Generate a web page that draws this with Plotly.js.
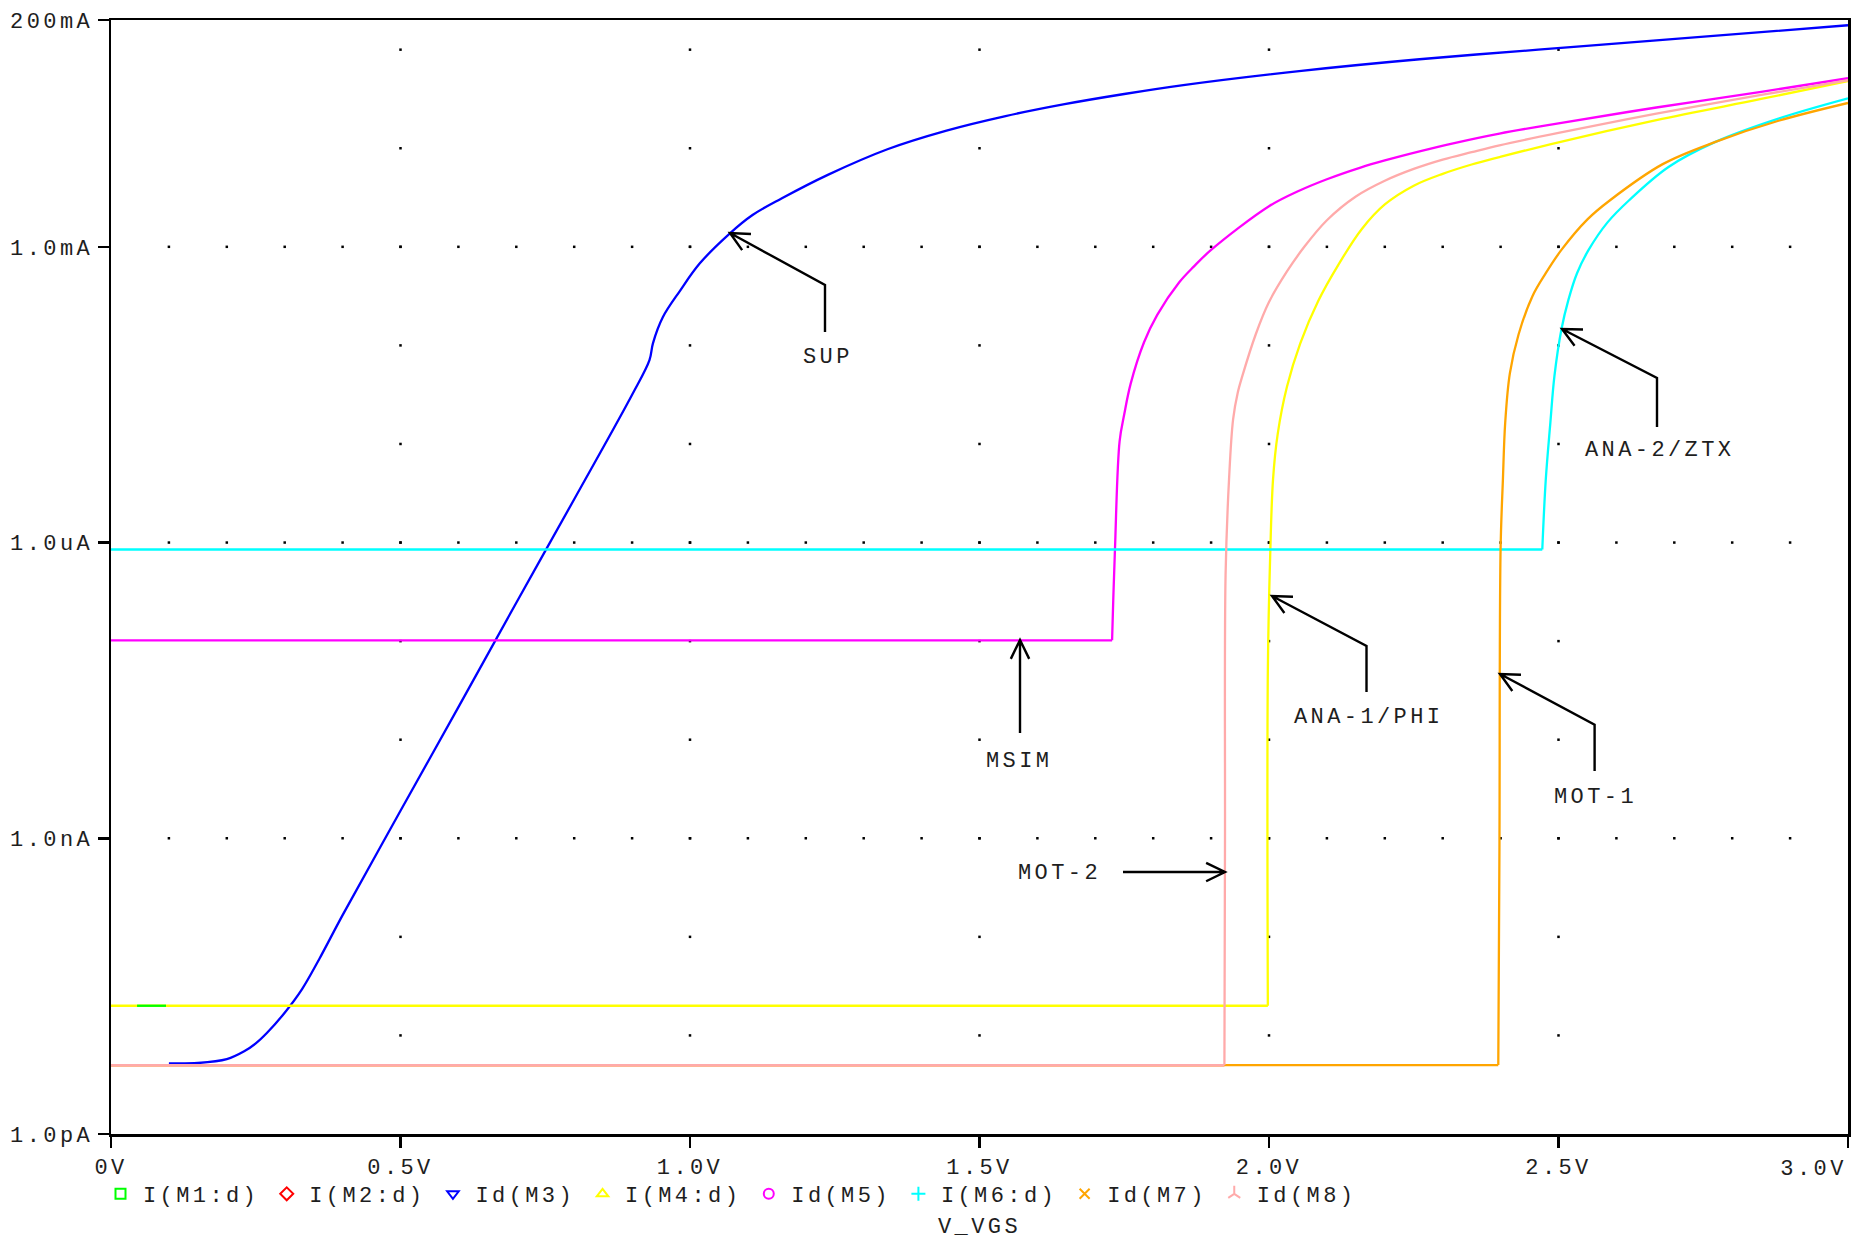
<!DOCTYPE html>
<html><head><meta charset="utf-8">
<script src="https://cdn.plot.ly/plotly-3.0.1.min.js"></script>
<style>
html,body{margin:0;padding:0;background:#fff;}
#chart{width:1854px;height:1240px;}
text{letter-spacing:3.4px;}
</style></head><body><div id="chart"></div>
<script>
// ---------------- data (V_VGS in volts, current in amps) ----------------
const seriesNames = ['I(M1:d)','I(M2:d)','Id(M3)','I(M4:d)','Id(M5)','I(M6:d)','Id(M7)','Id(M8)'];
const curveLabels = ['SUP','MSIM','MOT-2','ANA-1/PHI','ANA-2/ZTX','MOT-1'];

const vM1 = [0.045, 0.095];
const iM1 = [2.0e-11, 2.0e-11];

const vM2 = [0, 1.923];
const iM2 = [5.0e-12, 5.0e-12];

const vM3 = [0.10,0.15,0.20,0.23,0.25,0.27,0.30,0.33,0.36,0.40,0.50,0.60,0.70,0.80,0.90,0.93,0.936,0.953,0.983,1.017,1.069,1.108,1.158,1.238,1.341,1.443,1.545,1.647,1.75,1.852,2.056,2.26,2.465,2.669,3.0];
const iM3 = [5.2e-12,5.25e-12,5.75e-12,6.9e-12,8.3e-12,1.07e-11,1.7e-11,2.95e-11,6.0e-11,1.66e-10,1.9e-9,2.14e-8,2.45e-7,2.75e-6,3.16e-5,7.1e-5,1.05e-4,1.93e-4,3.6e-4,6.8e-4,1.37e-3,2.1e-3,3.09e-3,5.37e-3,9.77e-3,1.51e-2,2.12e-2,2.8e-2,3.55e-2,4.37e-2,6.1e-2,8.0e-2,0.100,0.124,0.177];

const vM4 = [0,1.998,1.998,2.002,2.007,2.015,2.031,2.054,2.085,2.12,2.16,2.2,2.25,2.3,2.35,2.398,2.5,2.669,2.85,3.0];
const iM4 = [2.0e-11,2.0e-11,5.0e-8,7.2e-7,4.4e-6,1.26e-5,3.8e-5,1.05e-4,2.82e-4,6.6e-4,1.51e-3,2.69e-3,4.17e-3,5.5e-3,6.84e-3,8.13e-3,1.15e-2,1.93e-2,3.16e-2,4.79e-2];

const vM5 = [0,1.729,1.731,1.734,1.742,1.750,1.761,1.784,1.807,1.845,1.87,1.900,2.0,2.05,2.1,2.158,2.2,2.26,2.32,2.398,2.5,2.669,2.85,3.0];
const iM5 = [1.02e-7,1.02e-7,2.6e-7,8.7e-7,1.07e-5,2.0e-5,4.07e-5,1.07e-4,2.04e-4,4.37e-4,6.3e-4,9.3e-4,2.58e-3,3.66e-3,4.85e-3,6.37e-3,7.53e-3,9.31e-3,1.13e-2,1.41e-2,1.79e-2,2.59e-2,3.73e-2,5.13e-2];

const vM6 = [0,2.472,2.478,2.486,2.493,2.505,2.517,2.532,2.552,2.585,2.622,2.69,2.771,2.88,3.0];
const iM6 = [8.5e-7,8.5e-7,4.34e-6,1.66e-5,4.9e-5,1.45e-4,2.88e-4,5.4e-4,9.3e-4,1.78e-3,2.97e-3,6.46e-3,1.16e-2,2.0e-2,3.21e-2];

const vM7 = [0,2.396,2.398,2.400,2.404,2.408,2.416,2.431,2.455,2.478,2.505,2.55,2.589,2.68,2.771,2.88,3.0];
const iM7 = [5.0e-12,5.0e-12,7.6e-10,8.7e-7,4.4e-6,1.66e-5,5.2e-5,1.29e-4,3.16e-4,5.4e-4,9.3e-4,1.9e-3,2.97e-3,6.9e-3,1.16e-2,1.9e-2,2.88e-2];

const vM8 = [0,1.923,1.924,1.925,1.931,1.938,1.946,1.954,1.977,2.000,2.031,2.061,2.1,2.15,2.2,2.25,2.3,2.35,2.398,2.5,2.669,2.85,3.0];
const iM8 = [5.0e-12,5.0e-12,1.0e-9,4.7e-7,4.4e-6,1.78e-5,3.31e-5,4.9e-5,1.29e-4,2.75e-4,5.62e-4,1.0e-3,1.86e-3,3.24e-3,4.68e-3,6.17e-3,7.67e-3,9.12e-3,1.07e-2,1.43e-2,2.24e-2,3.47e-2,4.9e-2];

const xTickVals = [0,0.5,1.0,1.5,2.0,2.5,3.0];
const xTickText = ['0V','0.5V','1.0V','1.5V','2.0V','2.5V',''];
const xEndTickVals = [3.0];
const xEndTickText = ['3.0V'];
const yTickVals = [1e-12,1e-9,1e-6,1e-3,0.2];
const yTickText = ['1.0pA','1.0nA','1.0uA','1.0mA','200mA'];

// ---------------- styling ----------------
const FONT = '"Liberation Mono", "Courier New", monospace';
const TXT = '#1e1e1e';
const colors = ['#00ff00','#ff0000','#0000ff','#ffff00','#ff00ff','#00ffff','#ffa500','#ffaaaa'];
const symbols = ['square-open','diamond-open','triangle-down-open','triangle-up-open','circle-open','cross-thin','x-thin','y-up'];
const xs = [vM1,vM2,vM3,vM4,vM5,vM6,vM7,vM8];
const ys = [iM1,iM2,iM3,iM4,iM5,iM6,iM7,iM8];

// plot-area pixel frame (for annotation placement)
const PL=111, PR=1848, PT=20, PB=1134;
const px = x => (x-PL)/(PR-PL);
const py = y => (PB-y)/(PB-PT);

const traces = [];
// dotted grid (PSpice style): dots every 0.1 V on decade lines, every decade on 0.5 V lines
const gx=[], gy=[];
const decadeRows = [1e-9,1e-6,1e-3];
for (const r of decadeRows) for (let k=1;k<30;k++) { gx.push(k/10); gy.push(r); }
for (let c=1;c<6;c++) for (let e=-11;e<=-1;e++) { gx.push(c*0.5); gy.push(Math.pow(10,e)); }
traces.push({x:gx,y:gy,mode:'markers',type:'scatter',marker:{symbol:'square',size:2.5,color:'#000'},showlegend:false,hoverinfo:'skip'});

// each series: flat leakage part drawn straight, turn-on part drawn as a smooth curve
const order = [1,2,3,4,5,6,7,0];
for (const i of order) {
  const v = xs[i], c = ys[i];
  let k = 0; while (k+1 < c.length && c[k+1] === c[0]) k++;
  const base = {type:'scatter',mode:'lines',name:seriesNames[i],showlegend:false,hoverinfo:'skip'};
  if (k > 0) traces.push(Object.assign({}, base, {x:v.slice(0,k+1), y:c.slice(0,k+1), line:{color:colors[i],width:2.3,shape:'linear'}}));
  if (k < c.length-1) traces.push(Object.assign({}, base, {x:v.slice(k), y:c.slice(k), line:{color:colors[i],width:2.3,shape:'spline',smoothing:1}}));
}
// legend entries (markers only, like PSpice)
for (let i=0;i<8;i++) {
  traces.push({x:[null],y:[null],type:'scatter',mode:'markers',name:seriesNames[i],
    marker:{symbol:symbols[i],size:10,color:colors[i],line:{color:colors[i],width:2}},
    showlegend:true,hoverinfo:'skip'});
}
// carrier for the end-of-axis label axis
traces.push({x:[null],y:[null],xaxis:'x2',yaxis:'y',type:'scatter',mode:'lines',showlegend:false,hoverinfo:'skip'});

// arrows (tip first), pixel positions of the callouts
const arrowPaths = [
  [[730,233],[825,285],[825,332]],
  [[1020,640],[1020,733]],
  [[1225,872],[1123,872]],
  [[1272,596],[1366.5,646],[1366.5,692]],
  [[1562,329],[1657,378],[1657,427]],
  [[1500,674],[1594.6,724.6],[1594.6,771]]
];
const labelPos = [[828,357],[1019,761],[1059,873],[1368,717],[1659,450],[1595,797]];

const shapes = arrowPaths.map(p => {
  const [tx,ty] = p[0], [nx,ny] = p[1];
  let dx=nx-tx, dy=ny-ty; const L=Math.hypot(dx,dy); dx/=L; dy/=L;
  const a=26*Math.PI/180, len=21;
  const arm = s => [tx+len*(dx*Math.cos(s*a)-dy*Math.sin(s*a)), ty+len*(dx*Math.sin(s*a)+dy*Math.cos(s*a))];
  const f = q => px(q[0]).toFixed(5)+','+py(q[1]).toFixed(5);
  let d = 'M'+f(p[0]);
  for (let k=1;k<p.length;k++) d += ' L'+f(p[k]);
  d += ' M'+f(arm(1))+' L'+f(p[0])+' L'+f(arm(-1));
  return {type:'path',xref:'paper',yref:'paper',path:d,line:{color:'#000',width:2.4}};
});
const annotations = curveLabels.map((t,i)=>({xref:'paper',yref:'paper',x:px(labelPos[i][0]),y:py(labelPos[i][1]),
  text:t,showarrow:false,xanchor:'center',yanchor:'middle',font:{family:FONT,size:22,color:TXT}}));

const tickFont = {family:FONT,size:22,color:TXT};
const layout = {
  width:1854,height:1240,
  margin:{l:PL,r:1854-PR,t:PT,b:1240-PB,pad:0},
  paper_bgcolor:'#fff',plot_bgcolor:'#fff',
  hovermode:false,
  font:{family:FONT,size:22,color:TXT},
  xaxis:{range:[0,3],tickvals:xTickVals,ticktext:xTickText,ticks:'outside',ticklen:11,tickwidth:2.5,tickcolor:'#000',
    showline:true,linewidth:2.5,linecolor:'#000',mirror:true,showgrid:false,zeroline:false,
    tickfont:tickFont,
    title:{text:'V_VGS',font:{family:FONT,size:22,color:TXT},standoff:46}},
  xaxis2:{overlaying:'x',anchor:'y',side:'bottom',range:[0,3],tickvals:xEndTickVals,ticktext:xEndTickText,
    ticks:'outside',ticklen:11,tickwidth:2.5,tickcolor:'rgba(0,0,0,0)',ticklabelposition:'outside left',ticklabeloverflow:'allow',
    ticklabelstandoff:14,showline:false,showgrid:false,zeroline:false,tickfont:tickFont},
  yaxis:{type:'log',range:[-12,Math.log10(0.2)],tickvals:yTickVals,ticktext:yTickText,ticks:'outside',ticklen:11,tickwidth:2.5,tickcolor:'#000',
    showline:true,linewidth:2.5,linecolor:'#000',mirror:true,showgrid:false,zeroline:false,
    tickfont:tickFont},
  legend:{orientation:'h',x:px(98),xanchor:'left',y:py(1173),yanchor:'top',itemwidth:35,
    font:{family:FONT,size:22,color:TXT},bgcolor:'rgba(0,0,0,0)',borderwidth:0,itemclick:false,itemdoubleclick:false},
  shapes:shapes,
  annotations:annotations
};

Plotly.newPlot('chart',traces,layout,{displayModeBar:false,staticPlot:true});
</script></body></html>
